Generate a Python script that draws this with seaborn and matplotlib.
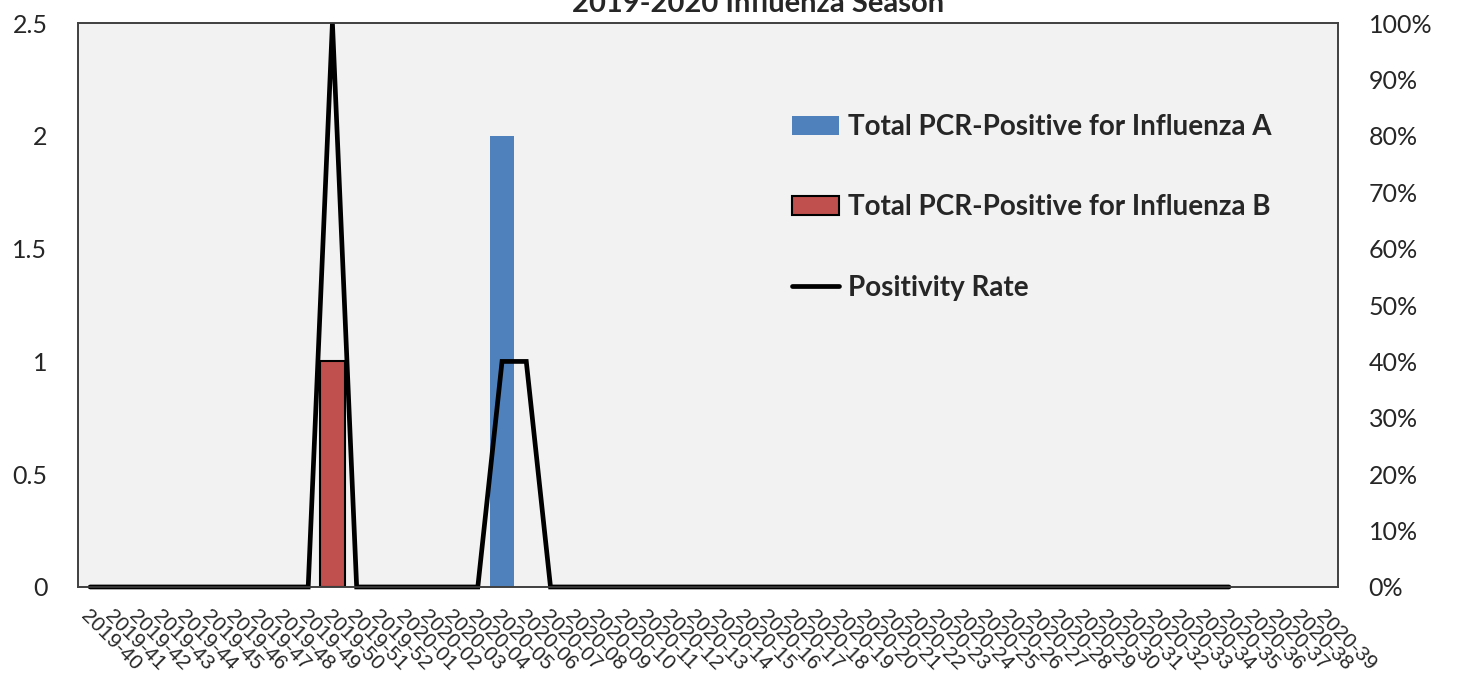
import matplotlib

matplotlib.use("Agg")
import matplotlib.pyplot as plt
import matplotlib.ticker as mticker
import numpy as np
import seaborn as sns
from matplotlib.lines import Line2D
from matplotlib.patches import Patch
from matplotlib.transforms import Bbox, TransformedBbox

# surveillance weeks shown on the x axis
weeks = [f"2019-{w}" for w in range(40, 53)] + [f"2020-{w:02d}" for w in range(1, 40)]

flu_a = [0, 0, 0, 0, 0, 0, 0, 0, 0, 0, 0, 0, 0,
         0, 0, 0, 0, 2, 0, 0, 0, 0, 0, 0, 0, 0,
         0, 0, 0, 0, 0, 0, 0, 0, 0, 0, 0, 0, 0,
         0, 0, 0, 0, 0, 0, 0, 0, 0, 0, 0, 0, 0]
flu_b = [0, 0, 0, 0, 0, 0, 0, 0, 0, 0, 1, 0, 0,
         0, 0, 0, 0, 0, 0, 0, 0, 0, 0, 0, 0, 0,
         0, 0, 0, 0, 0, 0, 0, 0, 0, 0, 0, 0, 0,
         0, 0, 0, 0, 0, 0, 0, 0, 0, 0, 0, 0, 0]
# positivity rate only reported through 2020-35
positivity = [0, 0, 0, 0, 0, 0, 0, 0, 0, 0, 1.0, 0, 0,
              0, 0, 0, 0, 0.4, 0.4, 0, 0, 0, 0, 0, 0, 0,
              0, 0, 0, 0, 0, 0, 0, 0, 0, 0, 0, 0, 0,
              0, 0, 0, 0, 0, 0, 0, 0, 0]

LABEL_A = "Total PCR-Positive for Influenza A"
LABEL_B = "Total PCR-Positive for Influenza B"
LABEL_RATE = "Positivity Rate"

BLUE = "#4F81BD"
RED = "#C0504D"

sns.set_theme(style="white")
plt.rcParams["font.family"] = ["Lato", "DejaVu Sans"]

fig = plt.figure(figsize=(14.58, 6.8), dpi=100)
ax = fig.add_axes([0.0535, 0.1368, 0.8642, 0.8292])
ax.set_facecolor("#F2F2F2")

sns.barplot(x=weeks, y=flu_b, order=weeks, color=RED, saturation=1,
            width=1.0, linewidth=0, ax=ax)
for p in ax.patches:
    if p.get_height() > 0:
        p.set_edgecolor("black")
        p.set_linewidth(1.5)
sns.barplot(x=weeks, y=flu_a, order=weeks, color=BLUE, saturation=1,
            width=1.0, linewidth=0, ax=ax)

ax.set_ylim(0, 2.5)
ax.set_yticks(np.arange(0, 2.51, 0.5))
ax.yaxis.set_major_formatter(mticker.FuncFormatter(lambda v, _: f"{v:g}"))
ax.set_xlim(-0.5, len(weeks) - 0.5)
ax.set_xticks(range(len(weeks)))
ax.set_xticklabels(weeks, rotation=-45, ha="left", va="top",
                   rotation_mode="anchor", fontfamily="Liberation Sans",
                   fontsize=15)
ax.tick_params(axis="y", length=0, pad=22, labelsize=18)
ax.tick_params(axis="x", length=0, pad=14)
ax.set_xlabel("")
ax.set_ylabel("")

ax2 = ax.twinx()
sns.lineplot(x=np.arange(len(positivity)), y=positivity, color="black",
             linewidth=3.4, ax=ax2)
# let the zero line show its full width below the frame, keep the top clipped
clip = TransformedBbox(Bbox([[0, -0.02], [1, 1]]), ax2.transAxes)
for line in ax2.lines:
    line.set_solid_joinstyle("miter")
    line.set_clip_box(clip)
ax2.set_ylim(0, 1.0)
ax2.set_yticks(np.arange(0, 1.01, 0.1))
ax2.yaxis.set_major_formatter(mticker.PercentFormatter(1.0, decimals=0))
ax2.tick_params(axis="y", length=0, pad=22, labelsize=18)
ax2.set_ylabel("")

for a in (ax, ax2):
    for spine in a.spines.values():
        spine.set_color("#404040")
        spine.set_linewidth(1.2)

handles = [
    Patch(facecolor=BLUE, edgecolor="none", label=LABEL_A),
    Patch(facecolor=RED, edgecolor="black", linewidth=1.5, label=LABEL_B),
    Line2D([0], [0], color="black", linewidth=3.4, label=LABEL_RATE),
]
ax2.legend(handles=handles, loc="upper left", bbox_to_anchor=(0.558, 0.858),
           frameon=False, prop={"weight": "bold", "size": 20},
           labelspacing=1.95, handlelength=1.7, handleheight=0.68,
           handletextpad=0.3, borderaxespad=0)

fig.text(0.52, 0.982, "2019-2020 Influenza Season", ha="center",
         va="baseline", fontweight="bold", fontsize=21)

fig.savefig("out.png", dpi=100)
